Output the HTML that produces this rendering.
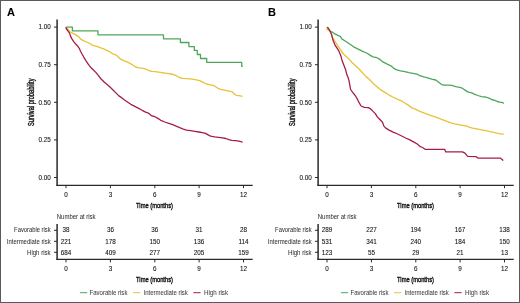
<!DOCTYPE html>
<html><head><meta charset="utf-8"><style>
html,body{margin:0;padding:0;background:#fff;width:520px;height:303px;overflow:hidden;font-family:"Liberation Sans", sans-serif;}
svg{display:block;filter:blur(0.35px);}
</style></head><body>
<svg width="520" height="303" viewBox="0 0 520 303" font-family='"Liberation Sans", sans-serif'>
<style>text{stroke:#111;stroke-width:0.08px;} text.lg{fill:#444;stroke:#444;stroke-width:0.05px;} text.ax{stroke-width:0.4px;} text.lb{fill:#2e2e2e;stroke:#2e2e2e;stroke-width:0.03px;}</style>
<rect x="0" y="0" width="520" height="303" fill="#fff"/>
<text x="6.9" y="16.2" font-size="11" font-weight="bold" fill="#000">A</text>
<text transform="translate(34.2,102.3) rotate(-90)" text-anchor="middle" font-size="8.5" textLength="47.6" lengthAdjust="spacingAndGlyphs" class="ax" fill="#111">Survival probability</text>
<line x1="54.0" y1="27.1" x2="57.0" y2="27.1" stroke="#2a2a2a" stroke-width="1"/>
<text x="50.8" y="29.3" text-anchor="end" font-size="6.3" fill="#111">1.00</text>
<line x1="54.0" y1="64.7" x2="57.0" y2="64.7" stroke="#2a2a2a" stroke-width="1"/>
<text x="50.8" y="66.9" text-anchor="end" font-size="6.3" fill="#111">0.75</text>
<line x1="54.0" y1="102.3" x2="57.0" y2="102.3" stroke="#2a2a2a" stroke-width="1"/>
<text x="50.8" y="104.5" text-anchor="end" font-size="6.3" fill="#111">0.50</text>
<line x1="54.0" y1="139.9" x2="57.0" y2="139.9" stroke="#2a2a2a" stroke-width="1"/>
<text x="50.8" y="142.1" text-anchor="end" font-size="6.3" fill="#111">0.25</text>
<line x1="54.0" y1="177.5" x2="57.0" y2="177.5" stroke="#2a2a2a" stroke-width="1"/>
<text x="50.8" y="179.7" text-anchor="end" font-size="6.3" fill="#111">0.00</text>
<line x1="57.10" y1="19.4" x2="57.10" y2="186.1" stroke="#2a2a2a" stroke-width="1.5"/>
<line x1="56.35" y1="185.4" x2="252.7" y2="185.4" stroke="#2a2a2a" stroke-width="1.4"/>
<line x1="66.0" y1="185.2" x2="66.0" y2="188.2" stroke="#2a2a2a" stroke-width="1"/>
<text x="66.0" y="196.6" text-anchor="middle" font-size="6.3" fill="#111">0</text>
<line x1="110.4" y1="185.2" x2="110.4" y2="188.2" stroke="#2a2a2a" stroke-width="1"/>
<text x="110.4" y="196.6" text-anchor="middle" font-size="6.3" fill="#111">3</text>
<line x1="154.8" y1="185.2" x2="154.8" y2="188.2" stroke="#2a2a2a" stroke-width="1"/>
<text x="154.8" y="196.6" text-anchor="middle" font-size="6.3" fill="#111">6</text>
<line x1="199.1" y1="185.2" x2="199.1" y2="188.2" stroke="#2a2a2a" stroke-width="1"/>
<text x="199.1" y="196.6" text-anchor="middle" font-size="6.3" fill="#111">9</text>
<line x1="243.5" y1="185.2" x2="243.5" y2="188.2" stroke="#2a2a2a" stroke-width="1"/>
<text x="243.5" y="196.6" text-anchor="middle" font-size="6.3" fill="#111">12</text>
<text x="154.5" y="207.8" text-anchor="middle" font-size="8" textLength="36.9" lengthAdjust="spacingAndGlyphs" class="ax" fill="#111">Time (months)</text>
<text x="56.8" y="219.0" font-size="6.3" textLength="38.8" lengthAdjust="spacingAndGlyphs" class="lb">Number at risk</text>
<line x1="57.10" y1="224.1" x2="57.10" y2="260.1" stroke="#2a2a2a" stroke-width="1.5"/>
<line x1="56.35" y1="259.4" x2="252.7" y2="259.4" stroke="#2a2a2a" stroke-width="1.4"/>
<line x1="54.0" y1="230.3" x2="57.0" y2="230.3" stroke="#2a2a2a" stroke-width="1"/>
<text x="50.6" y="232.1" text-anchor="end" font-size="6.3" textLength="36.5" lengthAdjust="spacingAndGlyphs" class="lb">Favorable risk</text>
<text x="66.0" y="232.1" text-anchor="middle" font-size="6.3" fill="#111">38</text>
<text x="110.4" y="232.1" text-anchor="middle" font-size="6.3" fill="#111">36</text>
<text x="154.8" y="232.1" text-anchor="middle" font-size="6.3" fill="#111">36</text>
<text x="199.1" y="232.1" text-anchor="middle" font-size="6.3" fill="#111">31</text>
<text x="243.5" y="232.1" text-anchor="middle" font-size="6.3" fill="#111">28</text>
<line x1="54.0" y1="241.3" x2="57.0" y2="241.3" stroke="#2a2a2a" stroke-width="1"/>
<text x="50.6" y="244.0" text-anchor="end" font-size="6.3" textLength="43.8" lengthAdjust="spacingAndGlyphs" class="lb">Intermediate risk</text>
<text x="66.0" y="244.0" text-anchor="middle" font-size="6.3" fill="#111">221</text>
<text x="110.4" y="244.0" text-anchor="middle" font-size="6.3" fill="#111">178</text>
<text x="154.8" y="244.0" text-anchor="middle" font-size="6.3" fill="#111">150</text>
<text x="199.1" y="244.0" text-anchor="middle" font-size="6.3" fill="#111">136</text>
<text x="243.5" y="244.0" text-anchor="middle" font-size="6.3" fill="#111">114</text>
<line x1="54.0" y1="252.3" x2="57.0" y2="252.3" stroke="#2a2a2a" stroke-width="1"/>
<text x="50.6" y="254.5" text-anchor="end" font-size="6.3" textLength="23.6" lengthAdjust="spacingAndGlyphs" class="lb">High risk</text>
<text x="66.0" y="254.5" text-anchor="middle" font-size="6.3" fill="#111">684</text>
<text x="110.4" y="254.5" text-anchor="middle" font-size="6.3" fill="#111">409</text>
<text x="154.8" y="254.5" text-anchor="middle" font-size="6.3" fill="#111">277</text>
<text x="199.1" y="254.5" text-anchor="middle" font-size="6.3" fill="#111">205</text>
<text x="243.5" y="254.5" text-anchor="middle" font-size="6.3" fill="#111">159</text>
<line x1="66.0" y1="259.4" x2="66.0" y2="262.4" stroke="#2a2a2a" stroke-width="1"/>
<text x="66.0" y="271.0" text-anchor="middle" font-size="6.3" fill="#111">0</text>
<line x1="110.4" y1="259.4" x2="110.4" y2="262.4" stroke="#2a2a2a" stroke-width="1"/>
<text x="110.4" y="271.0" text-anchor="middle" font-size="6.3" fill="#111">3</text>
<line x1="154.8" y1="259.4" x2="154.8" y2="262.4" stroke="#2a2a2a" stroke-width="1"/>
<text x="154.8" y="271.0" text-anchor="middle" font-size="6.3" fill="#111">6</text>
<line x1="199.1" y1="259.4" x2="199.1" y2="262.4" stroke="#2a2a2a" stroke-width="1"/>
<text x="199.1" y="271.0" text-anchor="middle" font-size="6.3" fill="#111">9</text>
<line x1="243.5" y1="259.4" x2="243.5" y2="262.4" stroke="#2a2a2a" stroke-width="1"/>
<text x="243.5" y="271.0" text-anchor="middle" font-size="6.3" fill="#111">12</text>
<text x="154.5" y="281.8" text-anchor="middle" font-size="8" textLength="36.9" lengthAdjust="spacingAndGlyphs" class="ax" fill="#111">Time (months)</text>
<line x1="79.9" y1="292.7" x2="87.2" y2="292.7" stroke="#4fa65a" stroke-width="1.0"/>
<text class="lg" x="89.5" y="294.8" font-size="6.3" textLength="37.9" lengthAdjust="spacingAndGlyphs">Favorable risk</text>
<line x1="133.0" y1="292.7" x2="140.3" y2="292.7" stroke="#e8c23a" stroke-width="1.0"/>
<text class="lg" x="143.5" y="294.8" font-size="6.3" textLength="44.3" lengthAdjust="spacingAndGlyphs">Intermediate risk</text>
<line x1="193.3" y1="292.7" x2="200.6" y2="292.7" stroke="#a61d46" stroke-width="1.0"/>
<text class="lg" x="204.0" y="294.8" font-size="6.3" textLength="24.0" lengthAdjust="spacingAndGlyphs">High risk</text>
<polyline points="66.0,27.1 72.4,27.1 72.4,30.9 98.0,30.9 98.0,34.8 163.5,34.8 163.5,38.8 180.4,38.8 180.4,42.5 188.9,42.5 188.9,46.6 194.3,46.6 194.3,50.4 197.3,50.4 197.3,54.5 200.5,54.5 200.5,58.5 206.7,58.5 206.7,62.3 241.7,62.3 241.7,66.3 242.8,66.3" fill="none" stroke="#4fa65a" stroke-width="1.3" stroke-linejoin="round"/>
<polyline points="66.0,27.1 68.0,29.5 69.9,31.9 72.9,33.4 75.9,34.9 78.8,36.9 80.8,39.2 83.8,40.8 87.7,42.5 90.5,44.0 92.9,45.4 96.8,46.4 100.8,47.9 104.8,49.4 108.7,51.3 112.7,53.8 115.6,54.8 117.6,56.3 120.2,58.9 123.6,60.6 127.0,61.9 130.5,63.6 133.0,65.3 135.6,67.0 139.0,67.9 143.3,68.3 145.9,69.2 148.5,70.5 151.9,71.4 155.2,71.6 160.3,72.3 163.7,73.0 167.2,73.4 171.5,74.0 175.8,75.3 179.2,77.5 182.6,78.4 190.2,78.9 195.3,79.6 199.6,80.6 203.0,82.3 206.5,84.0 210.8,84.9 214.2,85.7 216.8,87.5 218.5,88.7 220.8,89.4 224.4,90.2 228.1,90.9 231.7,91.6 233.9,93.4 236.1,95.3 239.0,95.6 242.6,96.3" fill="none" stroke="#e8c23a" stroke-width="1.35" stroke-linejoin="round"/>
<polyline points="66.0,27.1 66.2,28.5 67.9,30.9 69.4,32.9 70.4,35.9 71.9,38.9 73.9,41.8 75.9,44.3 77.8,46.3 79.3,48.3 80.3,50.7 82.0,54.0 83.9,57.3 85.9,60.6 88.2,64.2 90.5,67.2 93.2,69.8 95.8,72.4 98.5,75.7 101.1,79.0 104.4,82.3 107.7,85.0 110.0,87.0 113.0,90.0 115.9,92.9 118.9,95.9 121.9,97.9 124.9,100.3 127.8,102.3 130.8,104.3 133.8,105.8 136.7,107.3 139.7,108.8 142.7,110.7 145.6,112.2 149.0,113.4 151.9,115.9 154.9,116.7 157.9,118.4 160.8,120.3 164.8,122.0 168.8,123.3 172.7,124.6 176.7,126.3 180.3,127.9 183.3,129.1 186.6,130.1 190.7,130.7 194.9,131.4 199.0,132.0 202.3,132.6 205.6,133.4 208.1,134.9 210.6,136.1 214.7,136.9 218.6,137.4 222.3,137.8 225.9,138.5 228.8,139.6 231.7,140.3 235.3,140.7 239.0,141.2 242.6,142.2" fill="none" stroke="#a61d46" stroke-width="1.3" stroke-linejoin="round"/>
<text x="267.9" y="16.2" font-size="11" font-weight="bold" fill="#000">B</text>
<text transform="translate(295.2,102.3) rotate(-90)" text-anchor="middle" font-size="8.5" textLength="47.6" lengthAdjust="spacingAndGlyphs" class="ax" fill="#111">Survival probability</text>
<line x1="315.0" y1="27.1" x2="318.0" y2="27.1" stroke="#2a2a2a" stroke-width="1"/>
<text x="311.8" y="29.3" text-anchor="end" font-size="6.3" fill="#111">1.00</text>
<line x1="315.0" y1="64.7" x2="318.0" y2="64.7" stroke="#2a2a2a" stroke-width="1"/>
<text x="311.8" y="66.9" text-anchor="end" font-size="6.3" fill="#111">0.75</text>
<line x1="315.0" y1="102.3" x2="318.0" y2="102.3" stroke="#2a2a2a" stroke-width="1"/>
<text x="311.8" y="104.5" text-anchor="end" font-size="6.3" fill="#111">0.50</text>
<line x1="315.0" y1="139.9" x2="318.0" y2="139.9" stroke="#2a2a2a" stroke-width="1"/>
<text x="311.8" y="142.1" text-anchor="end" font-size="6.3" fill="#111">0.25</text>
<line x1="315.0" y1="177.5" x2="318.0" y2="177.5" stroke="#2a2a2a" stroke-width="1"/>
<text x="311.8" y="179.7" text-anchor="end" font-size="6.3" fill="#111">0.00</text>
<line x1="318.10" y1="19.4" x2="318.10" y2="186.1" stroke="#2a2a2a" stroke-width="1.5"/>
<line x1="317.35" y1="185.4" x2="513.7" y2="185.4" stroke="#2a2a2a" stroke-width="1.4"/>
<line x1="327.0" y1="185.2" x2="327.0" y2="188.2" stroke="#2a2a2a" stroke-width="1"/>
<text x="327.0" y="196.6" text-anchor="middle" font-size="6.3" fill="#111">0</text>
<line x1="371.4" y1="185.2" x2="371.4" y2="188.2" stroke="#2a2a2a" stroke-width="1"/>
<text x="371.4" y="196.6" text-anchor="middle" font-size="6.3" fill="#111">3</text>
<line x1="415.8" y1="185.2" x2="415.8" y2="188.2" stroke="#2a2a2a" stroke-width="1"/>
<text x="415.8" y="196.6" text-anchor="middle" font-size="6.3" fill="#111">6</text>
<line x1="460.1" y1="185.2" x2="460.1" y2="188.2" stroke="#2a2a2a" stroke-width="1"/>
<text x="460.1" y="196.6" text-anchor="middle" font-size="6.3" fill="#111">9</text>
<line x1="504.5" y1="185.2" x2="504.5" y2="188.2" stroke="#2a2a2a" stroke-width="1"/>
<text x="504.5" y="196.6" text-anchor="middle" font-size="6.3" fill="#111">12</text>
<text x="415.5" y="207.8" text-anchor="middle" font-size="8" textLength="36.9" lengthAdjust="spacingAndGlyphs" class="ax" fill="#111">Time (months)</text>
<text x="317.8" y="219.0" font-size="6.3" textLength="38.8" lengthAdjust="spacingAndGlyphs" class="lb">Number at risk</text>
<line x1="318.10" y1="224.1" x2="318.10" y2="260.1" stroke="#2a2a2a" stroke-width="1.5"/>
<line x1="317.35" y1="259.4" x2="513.7" y2="259.4" stroke="#2a2a2a" stroke-width="1.4"/>
<line x1="315.0" y1="230.3" x2="318.0" y2="230.3" stroke="#2a2a2a" stroke-width="1"/>
<text x="311.6" y="232.1" text-anchor="end" font-size="6.3" textLength="36.5" lengthAdjust="spacingAndGlyphs" class="lb">Favorable risk</text>
<text x="327.0" y="232.1" text-anchor="middle" font-size="6.3" fill="#111">289</text>
<text x="371.4" y="232.1" text-anchor="middle" font-size="6.3" fill="#111">227</text>
<text x="415.8" y="232.1" text-anchor="middle" font-size="6.3" fill="#111">194</text>
<text x="460.1" y="232.1" text-anchor="middle" font-size="6.3" fill="#111">167</text>
<text x="504.5" y="232.1" text-anchor="middle" font-size="6.3" fill="#111">138</text>
<line x1="315.0" y1="241.3" x2="318.0" y2="241.3" stroke="#2a2a2a" stroke-width="1"/>
<text x="311.6" y="244.0" text-anchor="end" font-size="6.3" textLength="43.8" lengthAdjust="spacingAndGlyphs" class="lb">Intermediate risk</text>
<text x="327.0" y="244.0" text-anchor="middle" font-size="6.3" fill="#111">531</text>
<text x="371.4" y="244.0" text-anchor="middle" font-size="6.3" fill="#111">341</text>
<text x="415.8" y="244.0" text-anchor="middle" font-size="6.3" fill="#111">240</text>
<text x="460.1" y="244.0" text-anchor="middle" font-size="6.3" fill="#111">184</text>
<text x="504.5" y="244.0" text-anchor="middle" font-size="6.3" fill="#111">150</text>
<line x1="315.0" y1="252.3" x2="318.0" y2="252.3" stroke="#2a2a2a" stroke-width="1"/>
<text x="311.6" y="254.5" text-anchor="end" font-size="6.3" textLength="23.6" lengthAdjust="spacingAndGlyphs" class="lb">High risk</text>
<text x="327.0" y="254.5" text-anchor="middle" font-size="6.3" fill="#111">123</text>
<text x="371.4" y="254.5" text-anchor="middle" font-size="6.3" fill="#111">55</text>
<text x="415.8" y="254.5" text-anchor="middle" font-size="6.3" fill="#111">29</text>
<text x="460.1" y="254.5" text-anchor="middle" font-size="6.3" fill="#111">21</text>
<text x="504.5" y="254.5" text-anchor="middle" font-size="6.3" fill="#111">13</text>
<line x1="327.0" y1="259.4" x2="327.0" y2="262.4" stroke="#2a2a2a" stroke-width="1"/>
<text x="327.0" y="271.0" text-anchor="middle" font-size="6.3" fill="#111">0</text>
<line x1="371.4" y1="259.4" x2="371.4" y2="262.4" stroke="#2a2a2a" stroke-width="1"/>
<text x="371.4" y="271.0" text-anchor="middle" font-size="6.3" fill="#111">3</text>
<line x1="415.8" y1="259.4" x2="415.8" y2="262.4" stroke="#2a2a2a" stroke-width="1"/>
<text x="415.8" y="271.0" text-anchor="middle" font-size="6.3" fill="#111">6</text>
<line x1="460.1" y1="259.4" x2="460.1" y2="262.4" stroke="#2a2a2a" stroke-width="1"/>
<text x="460.1" y="271.0" text-anchor="middle" font-size="6.3" fill="#111">9</text>
<line x1="504.5" y1="259.4" x2="504.5" y2="262.4" stroke="#2a2a2a" stroke-width="1"/>
<text x="504.5" y="271.0" text-anchor="middle" font-size="6.3" fill="#111">12</text>
<text x="415.5" y="281.8" text-anchor="middle" font-size="8" textLength="36.9" lengthAdjust="spacingAndGlyphs" class="ax" fill="#111">Time (months)</text>
<line x1="340.9" y1="292.7" x2="348.2" y2="292.7" stroke="#4fa65a" stroke-width="1.0"/>
<text class="lg" x="350.5" y="294.8" font-size="6.3" textLength="37.9" lengthAdjust="spacingAndGlyphs">Favorable risk</text>
<line x1="394.0" y1="292.7" x2="401.3" y2="292.7" stroke="#e8c23a" stroke-width="1.0"/>
<text class="lg" x="404.5" y="294.8" font-size="6.3" textLength="44.3" lengthAdjust="spacingAndGlyphs">Intermediate risk</text>
<line x1="454.3" y1="292.7" x2="461.6" y2="292.7" stroke="#a61d46" stroke-width="1.0"/>
<text class="lg" x="465.0" y="294.8" font-size="6.3" textLength="24.0" lengthAdjust="spacingAndGlyphs">High risk</text>
<polyline points="327.3,27.1 330.3,31.3 332.9,32.4 334.9,33.9 337.9,35.4 340.3,36.4 341.8,38.9 344.8,40.8 347.8,42.8 350.7,44.8 353.7,46.8 356.7,48.3 359.7,49.8 362.6,51.3 366.7,53.0 370.3,55.4 373.0,56.9 376.9,57.7 379.9,59.4 382.9,61.9 386.8,63.9 390.8,65.8 393.8,68.3 396.7,69.8 400.7,70.8 404.7,71.6 409.0,72.7 412.9,73.4 416.9,74.1 419.9,75.7 423.8,76.9 427.8,77.9 431.7,79.1 435.7,80.0 438.7,82.3 441.6,84.6 444.5,85.0 447.9,85.1 451.9,85.4 455.8,86.7 459.8,87.4 462.8,88.4 464.8,89.9 467.7,91.9 471.7,92.9 474.7,94.3 477.8,95.5 481.6,96.6 485.7,97.0 489.0,98.2 491.5,99.5 494.8,100.3 497.3,101.5 499.8,102.2 502.3,102.5 503.9,103.3" fill="none" stroke="#4fa65a" stroke-width="1.3" stroke-linejoin="round"/>
<polyline points="327.3,27.1 327.1,29.4 329.6,30.8 331.4,33.9 332.5,37.6 333.9,39.5 335.9,42.9 338.6,46.9 341.2,50.6 343.5,54.0 345.9,56.2 348.9,58.9 351.5,62.0 354.8,64.9 357.8,67.8 360.7,70.8 363.7,74.1 366.0,76.6 369.0,79.0 371.9,81.9 374.9,84.9 377.9,87.4 380.8,89.9 384.8,92.3 388.8,94.8 392.7,97.0 396.7,98.8 400.3,100.3 404.0,102.5 407.9,104.9 411.9,107.9 415.8,109.4 419.8,111.3 423.8,112.8 427.7,114.3 431.7,115.8 435.3,116.9 439.0,118.4 442.9,119.9 446.9,121.4 450.8,122.9 454.8,123.9 458.8,124.7 462.7,125.3 466.7,126.0 469.7,127.3 472.6,128.2 474.0,128.4 477.9,129.1 481.9,129.9 485.8,130.7 489.8,131.7 493.8,132.4 497.7,133.4 500.7,133.9 503.7,134.4" fill="none" stroke="#e8c23a" stroke-width="1.35" stroke-linejoin="round"/>
<polyline points="327.3,27.1 328.0,28.0 330.0,30.9 331.4,33.9 332.4,37.9 333.4,41.3 334.9,44.8 336.9,47.8 338.5,50.3 339.8,53.2 340.9,55.9 341.9,59.9 343.4,63.9 344.9,67.8 345.9,70.8 346.9,74.8 348.2,77.7 349.2,81.6 349.9,85.6 350.6,89.5 352.5,92.2 355.2,95.5 357.2,98.8 359.1,102.7 361.1,106.0 364.4,107.3 368.4,107.7 370.5,108.8 372.6,110.9 375.3,113.6 377.3,116.9 379.9,119.5 382.5,122.2 383.9,126.1 385.8,128.1 389.1,130.1 393.1,132.1 397.7,134.0 401.7,136.0 405.6,138.0 409.4,139.6 413.5,141.9 417.7,144.3 419.8,146.4 422.5,147.5 425.1,149.3 444.7,149.3 445.7,151.9 462.4,151.9 465.0,153.2 467.7,156.4 476.2,156.7 477.8,158.1 500.5,158.2 503.3,160.6" fill="none" stroke="#a61d46" stroke-width="1.3" stroke-linejoin="round"/>
<rect x="0.5" y="0.5" width="519" height="302" fill="none" stroke="#5a5a5a" stroke-width="1"/>
</svg>
</body></html>
